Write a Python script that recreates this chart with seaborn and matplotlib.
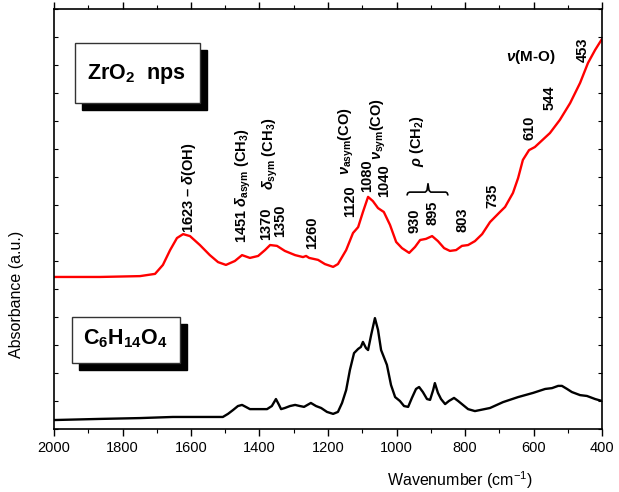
import numpy as np
import pandas as pd
import matplotlib
matplotlib.use("Agg")
import matplotlib.pyplot as plt
from matplotlib.patches import Rectangle
from matplotlib.ticker import MultipleLocator
import seaborn as sns

# FTIR spectra: wavenumber (cm-1) and absorbance (a.u., offset traces)
zro2_wn = [2000, 1866, 1749, 1705, 1682, 1661, 1641, 1623, 1603, 1574, 1545, 1521,
           1498, 1472, 1451, 1428, 1404, 1384, 1369, 1349, 1326, 1296, 1273, 1264,
           1255, 1229, 1209, 1185, 1171, 1147, 1127, 1112, 1098, 1083, 1069, 1054,
           1037, 1019, 1001, 984, 963, 946, 931, 914, 896, 879, 861, 844, 826, 809,
           791, 771, 750, 727, 698, 683, 660, 645, 631, 613, 596, 552, 523, 493,
           464, 441, 420, 400]
zro2_abs = [0.543, 0.543, 0.546, 0.554, 0.586, 0.639, 0.682, 0.696, 0.689, 0.657,
            0.621, 0.596, 0.586, 0.600, 0.621, 0.611, 0.618, 0.639, 0.657, 0.654,
            0.636, 0.621, 0.614, 0.618, 0.611, 0.604, 0.589, 0.579, 0.589, 0.639,
            0.700, 0.721, 0.775, 0.829, 0.814, 0.789, 0.775, 0.729, 0.668, 0.646,
            0.629, 0.650, 0.675, 0.679, 0.689, 0.671, 0.646, 0.636, 0.639, 0.654,
            0.657, 0.671, 0.696, 0.739, 0.775, 0.793, 0.843, 0.896, 0.961, 0.996,
            1.007, 1.057, 1.104, 1.164, 1.236, 1.307, 1.354, 1.393]

ligand_wn = [2000, 1866, 1749, 1653, 1574, 1507, 1492, 1477, 1463, 1451, 1440, 1428,
             1399, 1378, 1364, 1352, 1343, 1337, 1326, 1311, 1296, 1282, 1270, 1250,
             1235, 1220, 1203, 1185, 1171, 1159, 1147, 1136, 1124, 1112, 1104, 1098,
             1089, 1083, 1074, 1063, 1054, 1045, 1036, 1028, 1016, 1004, 990, 978,
             966, 955, 943, 934, 923, 911, 902, 893, 888, 879, 870, 858, 847, 832,
             820, 806, 791, 771, 727, 689, 645, 601, 566, 546, 528, 517, 502, 488,
             464, 444, 420, 400]
ligand_abs = [0.032, 0.036, 0.039, 0.043, 0.043, 0.043, 0.054, 0.068, 0.082, 0.086,
              0.079, 0.071, 0.071, 0.071, 0.082, 0.107, 0.086, 0.071, 0.075, 0.082,
              0.086, 0.082, 0.079, 0.093, 0.082, 0.075, 0.061, 0.054, 0.061, 0.093,
              0.139, 0.211, 0.271, 0.286, 0.293, 0.311, 0.289, 0.282, 0.336, 0.396,
              0.354, 0.282, 0.254, 0.229, 0.157, 0.114, 0.100, 0.082, 0.079, 0.111,
              0.143, 0.150, 0.132, 0.107, 0.104, 0.139, 0.164, 0.129, 0.107, 0.089,
              0.100, 0.111, 0.100, 0.086, 0.071, 0.064, 0.075, 0.096, 0.114, 0.129,
              0.143, 0.146, 0.154, 0.154, 0.143, 0.132, 0.121, 0.118, 0.107, 0.100]

# Band assignments: label text, wavenumber position, absorbance at text base
band_labels = [r"1623 – $\delta$(OH)", r"1451 $\delta_{\mathrm{asym}}$ (CH$_3$)",
               r"$\delta_{\mathrm{sym}}$ (CH$_3$)", "1370", "1350", "1260", "1120",
               r"$\nu_{\mathrm{asym}}$(CO)", "1080", "1040", r"$\nu_{\mathrm{sym}}$(CO)",
               r"$\rho$ (CH$_2$)", "930", "895", "803", "735", "610", "544", "453"]
band_wn = [1606, 1448, 1369, 1381, 1340, 1247, 1136, 1145, 1086, 1036, 1054,
           940, 946, 896, 806, 721, 613, 552, 456]
band_y = [0.700, 0.664, 0.854, 0.675, 0.686, 0.643, 0.757, 0.907, 0.846, 0.829,
          0.961, 0.936, 0.700, 0.729, 0.704, 0.789, 1.032, 1.139, 1.311]

x_ticks = [2000, 1800, 1600, 1400, 1200, 1000, 800, 600, 400]

sns.set_theme(style="ticks")
plt.rcParams["font.family"] = ["Liberation Sans", "DejaVu Sans"]
plt.rcParams["mathtext.fontset"] = "custom"
plt.rcParams["mathtext.rm"] = "Liberation Sans:bold"
plt.rcParams["mathtext.bf"] = "Liberation Sans:bold"
plt.rcParams["mathtext.it"] = "Liberation Sans:bold:italic"
for key in ["text.color", "axes.labelcolor", "xtick.color", "ytick.color",
            "axes.edgecolor"]:
    plt.rcParams[key] = "black"

fig = plt.figure(figsize=(6.19, 4.92), dpi=100)
ax = fig.add_axes([54 / 619, 63 / 492, 548 / 619, 420 / 492])

zro2 = pd.DataFrame({"wn": zro2_wn, "abs": zro2_abs})
ligand = pd.DataFrame({"wn": ligand_wn, "abs": ligand_abs})
sns.lineplot(data=zro2, x="wn", y="abs", color="#ff0000", lw=1.7,
             estimator=None, sort=False, ax=ax)
sns.lineplot(data=ligand, x="wn", y="abs", color="black", lw=1.7,
             estimator=None, sort=False, ax=ax)

ax.set_xlim(2000, 400)
ax.set_ylim(0, 1.5)
ax.set_xticks(x_ticks)
ax.set_xticklabels([str(t) for t in x_ticks], fontsize=10.5)
ax.xaxis.set_minor_locator(MultipleLocator(100))
ax.yaxis.set_major_locator(MultipleLocator(0.1))
ax.set_yticklabels([])
ax.tick_params(axis="x", which="major", direction="out", length=5, width=1,
               top=True, pad=4)
ax.tick_params(axis="x", which="minor", direction="out", length=3, width=0.8,
               top=True)
ax.tick_params(axis="y", which="major", direction="in", length=3, width=0.8,
               left=True, right=True)
for s in ax.spines.values():
    s.set_linewidth(1.2)
    s.set_color("black")

ax.set_xlabel(r"Wavenumber (cm$\mathregular{^{-1}}$)", fontsize=11.5)
ax.xaxis.set_label_coords(0.74, -0.095)
ax.set_ylabel("Absorbance (a.u.)", fontsize=11.5)
ax.yaxis.set_label_coords(-0.055, 0.32)

for txt, wn, yv in zip(band_labels, band_wn, band_y):
    ax.text(wn, yv, txt, rotation=90, ha="center", va="bottom",
            fontsize=10.5, fontweight="bold")
ax.text(607, 1.329, r"$\nu$(M-O)", ha="center", va="center",
        fontsize=11, fontweight="bold")

# curly brace grouping the CH2 rocking bands
brace_x = [969, 967, 962, 916, 911, 908, 905, 900, 856, 852, 850]
brace_y = [0.836, 0.843, 0.846, 0.846, 0.852, 0.876, 0.852, 0.846, 0.846, 0.843, 0.836]
ax.plot(brace_x, brace_y, color="black", lw=1.2)


def sample_box(x0, y0, x1, y1, text, tx, ty):
    sh = 7 / 548, 7 / 420
    ax.add_patch(Rectangle((x0 + sh[0], y0 - sh[1]), x1 - x0, y1 - y0,
                           transform=ax.transAxes, facecolor="black",
                           edgecolor="black", zorder=5))
    ax.add_patch(Rectangle((x0, y0), x1 - x0, y1 - y0, transform=ax.transAxes,
                           facecolor="white", edgecolor="#333333", lw=1.0,
                           zorder=6))
    ax.text(tx, ty, text, transform=ax.transAxes, ha="center", va="center",
            fontsize=15.5, fontweight="bold", zorder=7)


sample_box(0.038, 0.776, 0.266, 0.919, r"ZrO$_2$  nps", 0.151, 0.846)
sample_box(0.033, 0.157, 0.230, 0.267, r"C$_6$H$_{14}$O$_4$", 0.131, 0.214)

fig.savefig("out.png", dpi=100)
